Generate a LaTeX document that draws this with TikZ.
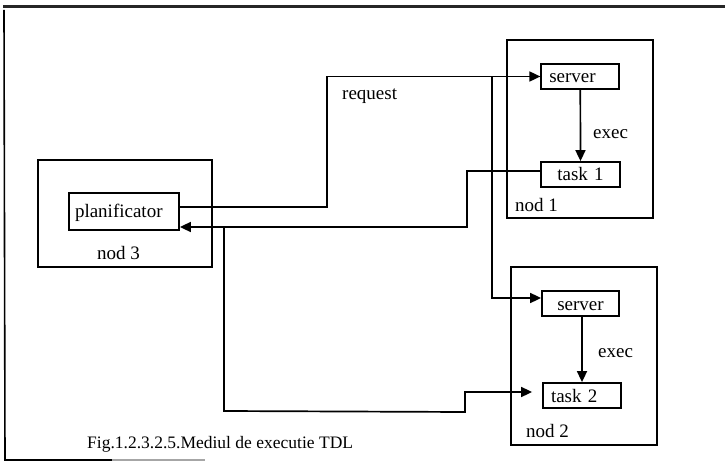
\documentclass[tikz,border=0pt]{standalone}
\usepackage{fontspec}
\setmainfont{Liberation Serif}
\usetikzlibrary{arrows.meta}
\begin{document}
\begin{tikzpicture}[x=1pt,y=-1pt,
  wire/.style={line width=1.7pt},
  arr/.style={wire,-{Triangle[length=11pt,width=10pt]}},
  frame/.style={draw,line width=1.8pt,inner sep=0pt},
  host/.style={frame},
  cell/.style={frame,inner ysep=0pt,text height=13pt,text depth=0pt,
               font=\fontsize{19}{21}\selectfont},
  tag/.style={inner sep=0pt,anchor=base west,font=\fontsize{19}{21}\selectfont}]
\useasboundingbox (0,0) rectangle (725,470);

% outer frame of the figure
\draw[line width=3.8pt, black!85] (3,6.5) -- (725,6.5);
\draw[line width=1.6pt] (4,10) -- (5,460) -- (112,460);
\draw[line width=1.6pt, black!35] (112,460) -- (205,460);

% hosts
\node[host, minimum width=174pt, minimum height=107pt] (nod3) at (125,213.5) {};
\node[host, minimum width=146pt, minimum height=178pt] (nod1) at (580,129) {};
\node[host, minimum width=146pt, minimum height=178pt] (nod2) at (584,356) {};

% processes
\node[cell, minimum height=37pt, inner xsep=6pt, text width=98pt, align=left]
  (plan) at (124,211.5) {planificator};
\node[cell, minimum height=25pt, inner xsep=8pt, text width=62pt, align=left]
  (srv1) at (580.3,76.5) {server};
\node[cell, minimum height=25pt, inner xsep=4pt, text width=71pt, align=center]
  (task1) at (580.5,174.5) {task 1};
\node[cell, minimum height=25pt, inner xsep=4pt, text width=69pt, align=center]
  (srv2) at (580.5,303.5) {server};
\node[cell, minimum height=25pt, inner xsep=8pt, text width=62pt, align=left]
  (task2) at (582,395.5) {task 2};

% labels
\node[tag] (req) at (342,100) {request};
\node[tag] (ex1) at (593,139) {exec};
\node[tag] (ex2) at (598,357) {exec};
\node[tag] (n1) at (515,212) {nod 1};
\node[tag] (n2) at (526,437) {nod 2};
\node[tag] (n3) at (97,260) {nod 3};
\node[tag, font=\fontsize{17.5}{19}\selectfont] (cap) at (87,448)
  {Fig.1.2.3.2.5.Mediul de executie TDL};

% branching points
\coordinate (fork1) at (492,76.5);
\coordinate (fork2) at (224,227);

% request from the scheduler to both servers
\draw[arr] ([yshift=4.5pt]plan.east) -- (327,207) -- (327,76.5) -- (srv1.west);
\draw[arr] (fork1) |- ([yshift=5.5pt]srv2.west);

% exec inside each host
\draw[arr] (srv1.south) -- (task1.north);
\draw[arr] (srv2.south -| task2.north) -- (task2.north);

% task 1 reports back; the result is passed on to task 2
\draw[arr] ([yshift=3.5pt]task1.west) -| (467,227) -- ([yshift=-15.5pt]plan.east);
\draw[arr, shorten >=10pt] (fork2) -- (224,411) -- (465,412) -- (465,392)
  -- ([yshift=3.5pt]task2.west);
\end{tikzpicture}
\end{document}
